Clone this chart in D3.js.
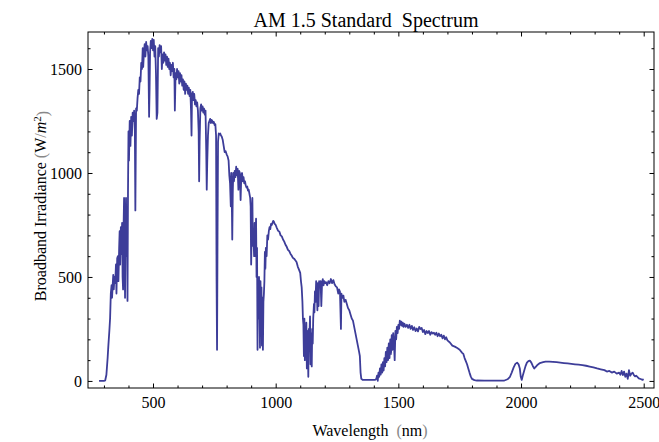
<!DOCTYPE html>
<html lang="en">
<head>
    <meta charset="UTF-8">
    <title>AM 1.5 Standard Spectrum | D3</title>
    <style>
        body { margin: 0; background: #fff; }
        text { font-family: "Liberation Serif", "DejaVu Serif", serif; }
    </style>
</head>
<body>
    <div id="container"></div>

    <script type="text/javascript" src="https://d3js.org/d3.v7.min.js"></script>
    <script type="text/javascript">
        // Wavelength in nm.
        var wavelengths = [
            280, 290, 300, 305, 310, 315, 318, 322, 325, 328,
            331, 333, 336, 338, 340, 343, 346, 349, 351, 354,
            357, 359, 362, 364, 366, 369, 371, 374, 376, 378,
            380, 382, 384, 386, 388, 390, 392, 394, 396, 398,
            400, 402, 405, 408, 411, 414, 417, 420, 423, 426,
            428, 431, 434, 437, 440, 443, 446, 449, 452, 455,
            458, 460, 463, 466, 469, 472, 475, 478, 481, 484,
            486, 488, 491, 494, 497, 500, 503, 506, 509, 512,
            515, 518, 521, 524, 527, 530, 533, 536, 539, 542,
            545, 548, 551, 554, 557, 560, 563, 566, 569, 572,
            575, 578, 581, 584, 587, 589, 592, 595, 598, 601,
            604, 607, 610, 613, 616, 619, 622, 625, 628, 631,
            634, 637, 640, 643, 646, 649, 652, 655, 657, 659,
            662, 665, 668, 671, 674, 677, 680, 683, 686, 688,
            690, 693, 696, 699, 702, 705, 708, 711, 714, 717,
            719, 721, 724, 727, 730, 733, 736, 739, 742, 745,
            748, 751, 754, 757, 759, 761, 763, 765, 768, 771,
            774, 777, 780, 784, 788, 792, 796, 800, 804, 808,
            811, 814, 817, 819, 821, 823, 825, 827, 830, 833,
            836, 839, 842, 845, 848, 851, 854, 857, 860, 863,
            866, 869, 872, 875, 878, 881, 884, 887, 890, 893,
            896, 898, 900, 902, 905, 907, 909, 912, 914, 916,
            918, 920, 922, 924, 926, 928, 930, 932, 934, 936,
            938, 940, 942, 944, 946, 948, 950, 952, 954, 956,
            958, 960, 963, 966, 969, 972, 975, 978, 981, 984,
            987, 990, 993, 996, 1000, 1005, 1010, 1015, 1020, 1025,
            1030, 1035, 1040, 1045, 1050, 1055, 1060, 1065, 1070, 1075,
            1080, 1085, 1090, 1095, 1100, 1103, 1106, 1109, 1111, 1113,
            1115, 1117, 1119, 1121, 1123, 1125, 1127, 1129, 1131, 1133,
            1135, 1137, 1140, 1142, 1144, 1147, 1149, 1151, 1153, 1156,
            1158, 1160, 1162, 1165, 1167, 1170, 1172, 1175, 1177, 1180,
            1183, 1186, 1189, 1192, 1195, 1198, 1201, 1205, 1210, 1215,
            1220, 1225, 1230, 1235, 1240, 1245, 1250, 1255, 1258, 1262,
            1266, 1268, 1272, 1276, 1280, 1285, 1290, 1295, 1300, 1305,
            1310, 1315, 1320, 1325, 1330, 1335, 1340, 1343, 1346, 1349,
            1355, 1365, 1375, 1385, 1395, 1405, 1410, 1413, 1416, 1419,
            1422, 1425, 1428, 1431, 1434, 1437, 1440, 1443, 1446, 1449,
            1452, 1455, 1458, 1461, 1464, 1467, 1470, 1473, 1476, 1479,
            1482, 1485, 1488, 1491, 1494, 1497, 1500, 1503, 1506, 1509,
            1512, 1515, 1518, 1521, 1525, 1530, 1535, 1540, 1545, 1550,
            1555, 1560, 1565, 1570, 1575, 1580, 1585, 1590, 1595, 1600,
            1605, 1610, 1615, 1620, 1625, 1630, 1635, 1640, 1645, 1650,
            1655, 1660, 1665, 1670, 1675, 1680, 1685, 1690, 1695, 1700,
            1710, 1720, 1730, 1740, 1750, 1760, 1765, 1770, 1775, 1780,
            1785, 1790, 1795, 1800, 1810, 1820, 1850, 1900, 1930, 1945,
            1955, 1962, 1970, 1977, 1984, 1990, 1995, 1999, 2003, 2007,
            2012, 2018, 2024, 2030, 2036, 2042, 2048, 2054, 2060, 2068,
            2077, 2090, 2100, 2115, 2130, 2145, 2160, 2175, 2190, 2205,
            2220, 2235, 2250, 2265, 2280, 2295, 2310, 2325, 2340, 2350,
            2360, 2370, 2380, 2390, 2400, 2405, 2410, 2415, 2420, 2425,
            2430, 2435, 2440, 2445, 2450, 2455, 2460, 2465, 2470, 2480,
            2490, 2495, 2500
        ];

        // Broadband irradiance in W/m^2, one per wavelength above.
        var irradiance = [
            0, 0, 0, 2, 30, 110, 170, 240, 300, 420,
            460, 400, 470, 510, 440, 500, 470, 560, 420, 590,
            600, 480, 640, 720, 560, 740, 610, 760, 500, 440,
            740, 880, 620, 400, 760, 880, 600, 810, 385, 900,
            1200, 1060, 1250, 1130, 1270, 1180, 1290, 1250, 1300, 1200,
            820, 1310, 1300, 1360, 1400, 1380, 1460, 1440, 1530, 1500,
            1600, 1510, 1580, 1620, 1560, 1630, 1590, 1610, 1560, 1270,
            1400, 1580, 1635, 1600, 1645, 1590, 1640, 1560, 1610, 1480,
            1260, 1290, 1600, 1560, 1615, 1580, 1610, 1500, 1570, 1530,
            1580, 1540, 1570, 1520, 1560, 1510, 1550, 1500, 1530, 1470,
            1520, 1490, 1530, 1460, 1500, 1300, 1480, 1450, 1500, 1460,
            1490, 1430, 1480, 1440, 1470, 1420, 1450, 1400, 1440, 1380,
            1430, 1400, 1420, 1380, 1410, 1370, 1400, 1300, 1180, 1380,
            1390, 1350, 1380, 1330, 1350, 1320, 1340, 1300, 1200, 960,
            1150, 1310, 1330, 1300, 1320, 1290, 1310, 1280, 1300, 1100,
            920, 1050, 1180, 1240, 1250, 1260, 1240, 1255, 1250, 1240,
            1245, 1230, 1235, 1180, 500, 150, 700, 1150, 1190, 1185,
            1190, 1180, 1175, 1160, 1130, 1100, 1105, 1090, 1080, 1060,
            990, 950, 840, 1000, 880, 680, 900, 1000, 960, 1010,
            980, 1030, 990, 1020, 920, 1010, 1000, 870, 990, 1000,
            960, 980, 950, 960, 940, 930, 935, 915, 920, 900,
            880, 840, 560, 700, 880, 650, 720, 600, 760, 600,
            700, 780, 500, 640, 150, 480, 300, 500, 420, 160,
            480, 380, 450, 170, 400, 150, 380, 420, 480, 620,
            540, 640, 600, 700, 680, 720, 740, 730, 755, 750,
            760, 770, 765, 755, 750, 735, 722, 718, 700, 695,
            680, 670, 655, 645, 630, 625, 612, 603, 592, 588,
            580, 572, 550, 535, 520, 480, 450, 380, 300, 270,
            120, 300, 100, 260, 180, 280, 60, 240, 160, 20,
            250, 200, 310, 80, 230, 70, 250, 180, 300, 370,
            330, 430, 380, 480, 450, 340, 470, 360, 480, 470,
            480, 360, 470, 490, 460, 480, 470, 475, 460, 480,
            470, 490, 470, 485, 465, 455, 450, 420, 440, 430,
            250, 420, 400, 410, 380, 390, 370, 350, 340, 320,
            300, 290, 260, 230, 200, 170, 140, 120, 40, 10,
            5, 5, 5, 5, 5, 5, 10, 25, 0, 40,
            20, 60, 30, 80, 40, 90, 50, 110, 70, 140,
            90, 160, 100, 180, 110, 200, 130, 220, 150, 230,
            180, 100, 240, 200, 260, 230, 270, 250, 290, 270,
            285, 265, 280, 260, 275, 260, 270, 255, 270, 250,
            265, 245, 258, 240, 252, 238, 260, 250, 255, 235,
            245, 225, 240, 230, 240, 222, 235, 228, 232, 222,
            232, 215, 228, 215, 222, 205, 218, 200, 210, 195,
            185, 170, 165, 158, 150, 135, 130, 110, 95, 80,
            60, 40, 22, 10, 4, 2, 1, 1, 1, 8,
            20, 40, 65, 82, 88, 80, 60, 20, 5, 25,
            45, 70, 88, 95, 98, 88, 72, 60, 68, 78,
            86, 90, 93, 93, 92, 90, 88, 86, 84, 82,
            80, 78, 76, 73, 69, 65, 60, 56, 52, 45,
            48, 40, 45, 35, 40, 30, 48, 28, 45, 20,
            35, 10, 52, 25, 35, 40, 28, 22, 25, 12,
            8, 5, 8
        ];

        var xMajorTicks = [500, 1000, 1500, 2000, 2500];
        var yMajorTicks = [0, 500, 1000, 1500];

        var width = 659,
            height = 442;

        var plot = { left: 88, right: 654, top: 32, bottom: 388 };

        var svgCanvas = d3.select("#container")
            .append("svg")
            .attr("width", width)
            .attr("height", height);

        var x = d3.scaleLinear()
            .domain([235, 2542])
            .range([plot.left, plot.right]);

        var y = d3.scaleLinear()
            .domain([-34, 1678])
            .range([plot.bottom, plot.top]);

        // Minor ticks every 100 that are not major ticks.
        var xMinorTicks = d3.range(300, 2600, 100).filter(function(d) {
            return xMajorTicks.indexOf(d) < 0;
        });
        var yMinorTicks = d3.range(0, 1700, 100).filter(function(d) {
            return yMajorTicks.indexOf(d) < 0;
        });

        svgCanvas.append("clipPath")
            .attr("id", "plot-clip")
            .append("rect")
            .attr("x", plot.left)
            .attr("y", plot.top)
            .attr("width", plot.right - plot.left)
            .attr("height", plot.bottom - plot.top);

        // The spectrum line.
        var lineFunc = d3.line()
            .x(function(d, i) { return x(wavelengths[i]); })
            .y(function(d) { return y(d); });

        svgCanvas.append("path")
            .attr("clip-path", "url(#plot-clip)")
            .attr("d", lineFunc(irradiance))
            .attr("fill", "none")
            .attr("stroke", "#3d3d99")
            .attr("stroke-width", 1.8)
            .attr("stroke-linejoin", "round");

        // Frame around the plot.
        svgCanvas.append("rect")
            .attr("x", plot.left)
            .attr("y", plot.top)
            .attr("width", plot.right - plot.left)
            .attr("height", plot.bottom - plot.top)
            .attr("fill", "none")
            .attr("stroke", "#000")
            .attr("stroke-width", 1);

        // Helper: draw one axis with ticks pointing into the plot.
        function drawAxis(axis, transform, showLabels) {
            var g = svgCanvas.append("g")
                .attr("transform", transform)
                .call(axis);
            g.select(".domain").remove();
            g.selectAll("line").attr("stroke", "#000");
            g.selectAll("text")
                .style("font-family", "'Liberation Serif', serif")
                .style("font-size", "16px")
                .attr("fill", "#000");
            if (!showLabels) g.selectAll("text").remove();
            return g;
        }

        var fmt = d3.format("d");

        // Bottom and top.
        drawAxis(d3.axisBottom(x).tickValues(xMajorTicks).tickSize(-4.5).tickPadding(9).tickFormat(fmt),
            "translate(0," + plot.bottom + ")", true);
        drawAxis(d3.axisBottom(x).tickValues(xMinorTicks).tickSize(-2.5).tickFormat(""),
            "translate(0," + plot.bottom + ")", false);
        drawAxis(d3.axisTop(x).tickValues(xMajorTicks).tickSize(-4.5).tickFormat(""),
            "translate(0," + plot.top + ")", false);
        drawAxis(d3.axisTop(x).tickValues(xMinorTicks).tickSize(-2.5).tickFormat(""),
            "translate(0," + plot.top + ")", false);

        // Left and right.
        drawAxis(d3.axisLeft(y).tickValues(yMajorTicks).tickSize(-4.5).tickPadding(6).tickFormat(fmt),
            "translate(" + plot.left + ",0)", true);
        drawAxis(d3.axisLeft(y).tickValues(yMinorTicks).tickSize(-2.5).tickFormat(""),
            "translate(" + plot.left + ",0)", false);
        drawAxis(d3.axisRight(y).tickValues(yMajorTicks).tickSize(-4.5).tickFormat(""),
            "translate(" + plot.right + ",0)", false);
        drawAxis(d3.axisRight(y).tickValues(yMinorTicks).tickSize(-2.5).tickFormat(""),
            "translate(" + plot.right + ",0)", false);

        // Title.
        svgCanvas.append("text")
            .attr("x", 366)
            .attr("y", 27)
            .attr("text-anchor", "middle")
            .style("font-size", "20px")
            .style("white-space", "pre")
            .text("AM 1.5 Standard  Spectrum");

        // X axis label.
        var xLabel = svgCanvas.append("text")
            .attr("x", 370)
            .attr("y", 436)
            .attr("text-anchor", "middle")
            .style("font-size", "16px")
            .style("white-space", "pre");
        xLabel.append("tspan").text("Wavelength  ");
        xLabel.append("tspan").attr("fill", "#888").text("(");
        xLabel.append("tspan").text("nm");
        xLabel.append("tspan").attr("fill", "#888").text(")");

        // Y axis label.
        var yLabel = svgCanvas.append("text")
            .attr("transform", "translate(46,206) rotate(-90)")
            .attr("text-anchor", "middle")
            .style("font-size", "16px")
            .style("white-space", "pre");
        yLabel.append("tspan").text("Broadband Irradiance ");
        yLabel.append("tspan").attr("fill", "#888").text("(");
        yLabel.append("tspan").text("W");
        yLabel.append("tspan").attr("fill", "#888").text("/");
        yLabel.append("tspan").style("font-style", "italic").text("m");
        yLabel.append("tspan").attr("dy", "-0.45em").style("font-size", "11px").text("2");
        yLabel.append("tspan").attr("dy", "0.45em").attr("fill", "#888").text(")");
    </script>
</body>
</html>
